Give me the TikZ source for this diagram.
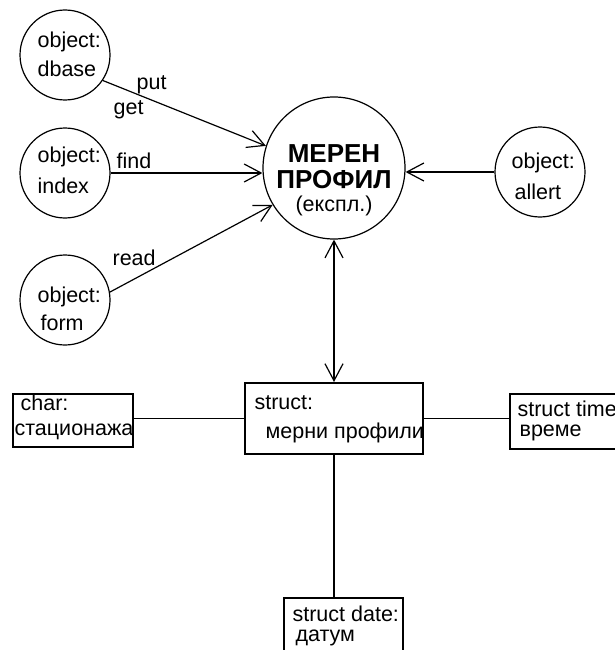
\documentclass[tikz,border=0pt]{standalone}
\usepackage{fontspec}
\setmainfont{Liberation Sans}
\usetikzlibrary{arrows.meta}
\begin{document}
\begin{tikzpicture}[x=1pt,y=-1pt,line width=1.2pt,
  txt/.style={anchor=base west,inner sep=0pt,font=\fontsize{21.5}{25}\selectfont},
  obj/.style={draw,circle,inner sep=0pt,minimum size=90pt},
  bx/.style={draw,line width=1.8pt,inner sep=0pt},
  tip/.tip={Straight Barb[length=17pt,width=18pt,line width=1.2pt]},
  arr/.style={-tip},
  barr/.style={tip-tip}]
\useasboundingbox (0,0) rectangle (615,650);
% circles
\node[obj] (dbase) at (65,55) {};
\node[obj] (index) at (65,173) {};
\node[obj] (form) at (65,300) {};
\node[obj] (allert) at (540,172) {};
\node[draw,circle,inner sep=0pt,minimum size=142pt] (main) at (334,168) {};
% circle texts
\node[txt] (t1) at (37,48) {object:};
\node[txt] (t2) at (37,77) {dbase};
\node[txt] (t3) at (37,162) {object:};
\node[txt] (t4) at (37,193) {index};
\node[txt] (t5) at (37,302) {object:};
\node[txt] (t6) at (40,330) {form};
\node[txt] (t7) at (511,168) {object:};
\node[txt] (t8) at (514,199) {allert};
\node[anchor=base,inner sep=0pt,font=\fontsize{26}{30}\selectfont\bfseries] (m1) at (334,162) {МЕРЕН};
\node[anchor=base,inner sep=0pt,font=\fontsize{26}{30}\selectfont\bfseries] (m2) at (334,188) {ПРОФИЛ};
\node[anchor=base,inner sep=0pt,font=\fontsize{21.5}{25}\selectfont] (m3) at (334,211) {(експл.)};
% boxes
\node[bx,anchor=north west,minimum width=120pt,minimum height=53pt] (char) at (12,393) {};
\node[bx,anchor=north west,minimum width=178pt,minimum height=71pt] (struct) at (244,382) {};
\node[bx,anchor=north west,minimum width=130pt,minimum height=55pt] (time) at (509,393) {};
\node[bx,anchor=north west,minimum width=119pt,minimum height=56pt] (date) at (283,597) {};
\node[txt] (c1) at (20,410) {char:};
\node[txt] (c2) at (14,435) {стационажа};
\node[txt] (s1) at (254,409) {struct:};
\node[txt] (s2) at (265,438) {мерни профили};
\node[txt] (w1) at (517,416) {struct time};
\node[txt] (w2) at (519,436) {време};
\node[txt] (d1) at (292,621) {struct date:};
\node[txt] (d2) at (295,641) {датум};
% connectors
\draw[arr] (dbase.-34) -- (main.162);
\draw[arr] (index.east) -- (index.east -| main.west);
\draw[arr] (form.10) -- (main.211);
\draw[arr] (allert.west) -- (allert.west -| main.east);
\draw[barr] (main.south) -- (struct.north -| main.south);
\draw (char.east |- struct.west) -- (struct.west);
\draw (struct.east) -- (time.west |- struct.east);
\draw (struct.south -| main.south) -- (date.north -| main.south);
% labels
\node[txt] (put) at (136,90) {put};
\node[txt] (get) at (113,115) {get};
\node[txt] (find) at (116,168) {find};
\node[txt] (read) at (112,265) {read};
\end{tikzpicture}
\end{document}
